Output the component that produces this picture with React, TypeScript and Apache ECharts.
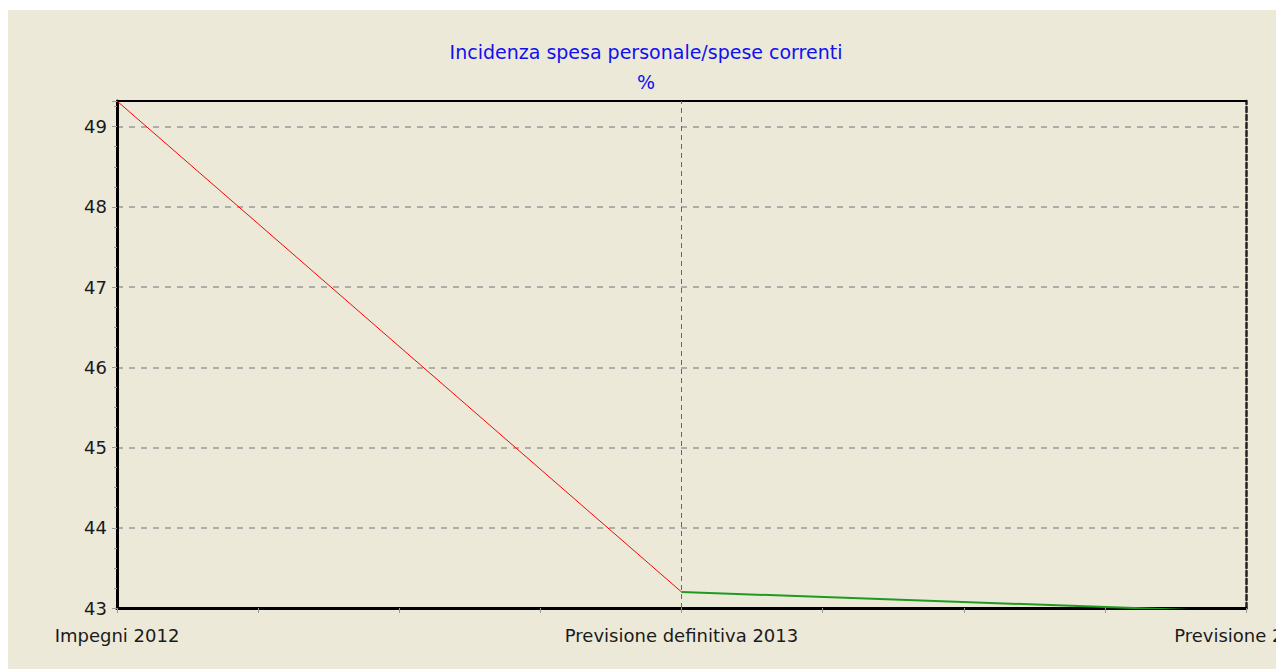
import React, { useEffect, useRef } from "react";
import * as echarts from "echarts";

const titleLines = ["Incidenza spesa personale/spese correnti", "%"];
const categories = ["Impegni 2012", "Previsione definitiva 2013", "Previsione 2014"];
const redValues: (number | null)[] = [49.32, 43.2, null];
const greenValues: (number | null)[] = [null, 43.2, 42.95];
const yMin = 43;
const yMax = 49.32;

const FONT = "DejaVu Sans";

export default function App() {
  const ref = useRef<HTMLDivElement>(null);
  useEffect(() => {
    if (!ref.current) return;
    const chart = echarts.init(ref.current, null, { renderer: "svg" });
    const toPairs = (arr: (number | null)[]) =>
      arr.map((v, i) => (v === null ? [i, null] : [i, v]));
    chart.setOption({
      animation: false,
      backgroundColor: "#ECE9D8",
      title: {
        text: titleLines.join("\n"),
        left: "center",
        top: 22,
        textStyle: {
          color: "#1010F0",
          fontFamily: FONT,
          fontSize: 19,
          fontWeight: "normal",
          lineHeight: 30,
        },
      },
      grid: {
        left: 109,
        right: 38,
        top: 91,
        bottom: 61,
        outerBoundsMode: "none",
        containLabel: false,
      },
      xAxis: [
        {
          type: "value",
          min: 0,
          max: categories.length - 1,
          interval: 1,
          axisLine: { show: true, onZero: false, lineStyle: { color: "#000", width: 3 } },
          axisTick: { show: true, length: 5, lineStyle: { color: "#999", width: 1 } },
          minorTick: { show: true, splitNumber: 4, length: 5, lineStyle: { color: "#999", width: 1 } },
          axisLabel: {
            color: "#1a1a1a",
            fontFamily: FONT,
            fontSize: 18,
            margin: 18,
            formatter: (v: number) => categories[Math.round(v)] ?? "",
          },
          splitLine: { show: false },
        },
        {
          type: "value",
          position: "top",
          min: 0,
          max: categories.length - 1,
          axisLine: { show: true, lineStyle: { color: "#000", width: 2 } },
          axisTick: { show: false },
          axisLabel: { show: false },
          splitLine: { show: false },
        },
      ],
      yAxis: [
        {
          type: "value",
          min: yMin,
          max: yMax,
          interval: 1,
          axisLine: { show: true, onZero: false, lineStyle: { color: "#000", width: 3 } },
          axisTick: { show: true, length: 5, lineStyle: { color: "#999", width: 1 } },
          minorTick: { show: true, splitNumber: 4, length: 3, lineStyle: { color: "#999", width: 1 } },
          axisLabel: {
            color: "#1a1a1a",
            fontFamily: FONT,
            fontSize: 18,
            margin: 10,
            showMaxLabel: false,
            formatter: (v: number) => (Number.isInteger(v) ? String(v) : ""),
          },
          splitLine: { show: true, lineStyle: { color: "#999", type: [6, 6], width: 1.5 } },
        },
        {
          type: "value",
          position: "right",
          min: yMin,
          max: yMax,
          axisLine: { show: true, onZero: false, lineStyle: { color: "#222", width: 2.5, type: [5, 3] } },
          axisTick: { show: false },
          axisLabel: { show: false },
          splitLine: { show: false },
        },
      ],
      series: [
        {
          type: "line",
          xAxisIndex: 0,
          yAxisIndex: 0,
          data: toPairs(redValues),
          showSymbol: false,
          symbol: "none",
          clip: true,
          lineStyle: { color: "#ff0000", width: 1 },
          markLine: {
            silent: true,
            symbol: ["none", "none"],
            label: { show: false },
            lineStyle: { color: "#666", type: [5, 4], width: 1 },
            data: [{ xAxis: 1 }],
          },
        },
        {
          type: "line",
          xAxisIndex: 0,
          yAxisIndex: 0,
          data: toPairs(greenValues),
          showSymbol: false,
          symbol: "none",
          clip: true,
          lineStyle: { color: "#1f9a1f", width: 2 },
        },
      ],
    });
    return () => chart.dispose();
  }, []);
  return <div ref={ref} style={{ width: 1276, height: 659, marginTop: 2 }} />;
}
